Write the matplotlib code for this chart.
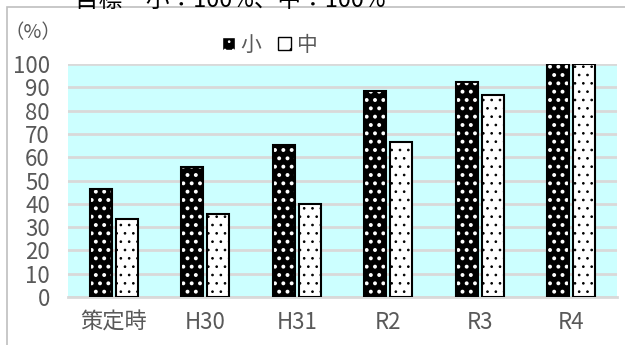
import numpy as np
import matplotlib.pyplot as plt
from matplotlib.patches import Rectangle, Patch

plt.rcParams['font.family'] = ['Noto Sans CJK JP', 'DejaVu Sans']

categories = ['策定時', 'H30', 'H31', 'R2', 'R3', 'R4']
small = [46.3, 56.0, 65.2, 88.3, 92.3, 100.0]
middle = [33.3, 35.7, 40.0, 66.7, 86.7, 100.0]
yticks = list(range(0, 101, 10))
title = '目標　小：100%、中：100%'

fig = plt.figure(figsize=(6.25, 3.45), dpi=100)
W, H = 625, 345
ax = fig.add_axes([68 / W, 1 - 297 / H, (617 - 68) / W, (297 - 64) / H])
ax.set_facecolor('#CCFFFF')

# outer chart frame
fig.patches.append(Rectangle((7 / W, -0.1), 1.0, 1 - 7 / H + 0.1, transform=fig.transFigure,
                             fill=False, edgecolor='#BFBFBF', linewidth=1.2))

x = np.arange(len(categories))
w = 0.24
gap = 0.045
xs = x - w / 2 - gap / 2
xm = x + w / 2 + gap / 2

plt.rcParams['hatch.linewidth'] = 1.6
ax.bar(xs, small, w, color='black', edgecolor='white', hatch='..', linewidth=0, zorder=3)
ax.bar(xs, small, w, fill=False, edgecolor='black', linewidth=1.5, zorder=4)
plt.rcParams['hatch.linewidth'] = 0.7
ax.bar(xm, middle, w, color='white', edgecolor='black', hatch='..', linewidth=0, zorder=3)
ax.bar(xm, middle, w, fill=False, edgecolor='black', linewidth=1.5, zorder=4)

ax.set_xlim(-0.5, len(categories) - 0.5)
ax.set_ylim(0, 100)
ax.set_yticks(yticks)
ax.yaxis.grid(True, color='#D9D9D9', linewidth=2)
ax.set_axisbelow(True)
for s in ['top', 'right', 'left']:
    ax.spines[s].set_visible(False)
ax.spines['bottom'].set_color('#D9D9D9')
ax.spines['bottom'].set_linewidth(2)
ax.tick_params(axis='both', length=0, labelsize=16, colors='#595959')
ax.tick_params(axis='y', pad=13)
ax.tick_params(axis='x', pad=10)
ax.set_xticks(x)
ax.set_xticklabels(categories)

fig.text(33 / W, 1 - 33 / H, '（%）', fontsize=14, color='#595959', ha='center', va='center')
fig.text(75 / W, 1 - 0 / H, title, fontsize=17, color='black', ha='left', va='center')

handles = [Patch(facecolor='black', edgecolor='white', hatch='..'),
           Patch(facecolor='white', edgecolor='black', hatch='.')]
leg = fig.legend(handles, ['小', '中'], loc='center', bbox_to_anchor=(270 / W, 1 - 45 / H),
                 ncol=2, frameon=False, fontsize=15, handlelength=0.6, handleheight=0.6,
                 handletextpad=0.3, columnspacing=0.8)
for t in leg.get_texts():
    t.set_color('#595959')

fig.savefig('out.png', dpi=100)
